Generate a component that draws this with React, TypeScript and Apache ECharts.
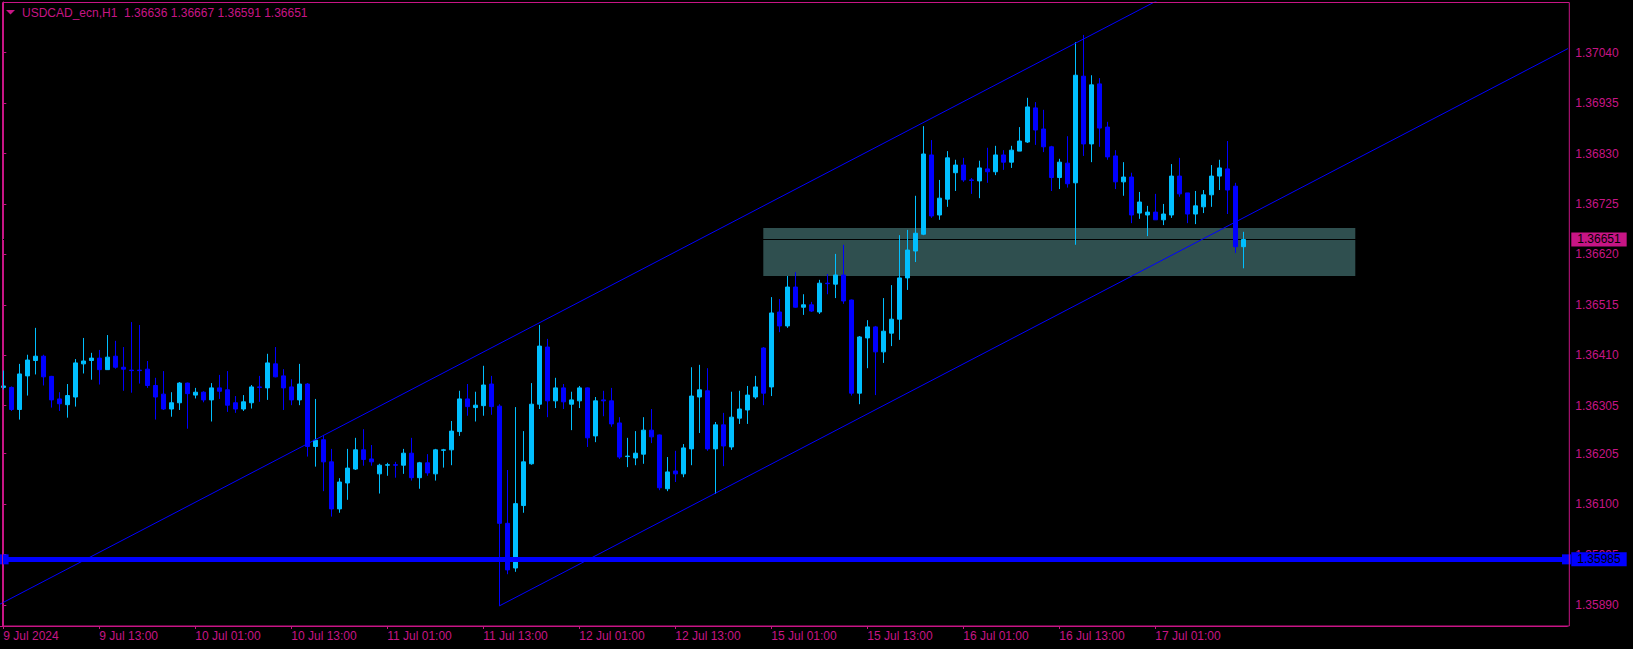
import React, { useEffect, useRef } from "react";
import * as echarts from "echarts";

const symbolTitle = "USDCAD_ecn,H1";
const lastBarOHLC = [1.36636, 1.36667, 1.36591, 1.36651];

const opens = [
  1.36343, 1.36343, 1.36297, 1.36367, 1.36399, 1.36408, 1.36366, 1.36319, 1.36307, 1.36323,
  1.36392, 1.36399, 1.36404, 1.3638, 1.36408, 1.36385, 1.36379, 1.36379, 1.36381, 1.36347,
  1.36329, 1.36298, 1.36311, 1.36352, 1.36327, 1.36333, 1.36317, 1.36342, 1.36338, 1.36311,
  1.36298, 1.36311, 1.36344, 1.36342, 1.36392, 1.36367, 1.36344, 1.36317, 1.3635, 1.3622,
  1.36234, 1.36188, 1.3609, 1.36144, 1.36173, 1.36213, 1.36194, 1.36163, 1.36181, 1.36182,
  1.36181, 1.36206, 1.36155, 1.36186, 1.36163, 1.36212, 1.36213, 1.36251, 1.36319, 1.36301,
  1.36305, 1.3635, 1.36304, 1.3606, 1.35967, 1.36097, 1.36184, 1.36308, 1.36427, 1.36315,
  1.36342, 1.36308, 1.36315, 1.36342, 1.36242, 1.36317, 1.36315, 1.36269, 1.36199, 1.36196,
  1.36204, 1.36254, 1.36244, 1.36132, 1.36169, 1.36163, 1.36215, 1.36323, 1.36336, 1.36215,
  1.36265, 1.36219, 1.36279, 1.36296, 1.36323, 1.36425, 1.36344, 1.365, 1.36471, 1.36552,
  1.3651, 1.36515, 1.365, 1.3656, 1.36558, 1.36577, 1.36525, 1.36331, 1.36446, 1.36469,
  1.36417, 1.36456, 1.36485, 1.36571, 1.36627, 1.36662, 1.36827, 1.36702, 1.36735, 1.3679,
  1.36806, 1.36775, 1.36773, 1.36798, 1.36792, 1.36827, 1.36812, 1.36835, 1.36854, 1.36925,
  1.36881, 1.36844, 1.3678, 1.3681, 1.36769, 1.36991, 1.3685, 1.36975, 1.36885, 1.36825,
  1.36771, 1.36781, 1.36706, 1.36702, 1.36708, 1.36692, 1.36702, 1.36783, 1.36748, 1.36704,
  1.36719, 1.36744, 1.36783, 1.36798, 1.36762, 1.36636,
];
const highs = [
  1.36378, 1.36345, 1.36392, 1.36411, 1.36467, 1.36411, 1.36367, 1.36333, 1.3635, 1.36402,
  1.36446, 1.36415, 1.36421, 1.36452, 1.3644, 1.36427, 1.36479, 1.36473, 1.36398, 1.36363,
  1.36377, 1.36333, 1.36354, 1.36353, 1.36342, 1.36335, 1.36352, 1.36369, 1.36377, 1.36325,
  1.36327, 1.36348, 1.36367, 1.36413, 1.36427, 1.36381, 1.3636, 1.36392, 1.36352, 1.36319,
  1.36244, 1.36215, 1.36154, 1.36215, 1.36238, 1.36256, 1.36223, 1.36184, 1.36186, 1.36188,
  1.36215, 1.36238, 1.36188, 1.36204, 1.36215, 1.36215, 1.36273, 1.36336, 1.3635, 1.36334,
  1.36388, 1.36367, 1.36308, 1.36171, 1.36302, 1.36252, 1.36352, 1.36473, 1.36444, 1.36363,
  1.3635, 1.36334, 1.36346, 1.36343, 1.36323, 1.36336, 1.36342, 1.36281, 1.36238, 1.36252,
  1.36281, 1.36298, 1.36245, 1.36198, 1.36211, 1.36225, 1.36385, 1.3639, 1.36383, 1.36271,
  1.3629, 1.36334, 1.36336, 1.36346, 1.36367, 1.36427, 1.36531, 1.36527, 1.36575, 1.36583,
  1.36537, 1.36521, 1.36567, 1.36579, 1.36621, 1.3664, 1.36526, 1.3645, 1.36483, 1.36471,
  1.36529, 1.36556, 1.3666, 1.36671, 1.36742, 1.36887, 1.36858, 1.36775, 1.36835, 1.36817,
  1.36821, 1.36779, 1.36815, 1.36842, 1.36846, 1.36837, 1.36846, 1.36885, 1.36946, 1.36937,
  1.36921, 1.36846, 1.36819, 1.36866, 1.37062, 1.37077, 1.36993, 1.36987, 1.36896, 1.36837,
  1.36812, 1.3679, 1.3675, 1.36721, 1.36746, 1.36725, 1.36808, 1.36821, 1.36748, 1.36752,
  1.36754, 1.36806, 1.36817, 1.36856, 1.36769, 1.36667,
];
const lows = [
  1.36339, 1.36294, 1.36276, 1.36326, 1.3637, 1.36347, 1.36301, 1.36294, 1.3628, 1.36303,
  1.36372, 1.36359, 1.36349, 1.3638, 1.36382, 1.36336, 1.36332, 1.36351, 1.36342, 1.36276,
  1.36296, 1.36282, 1.36296, 1.36257, 1.3632, 1.36312, 1.36272, 1.36319, 1.36292, 1.3629,
  1.36294, 1.36299, 1.36313, 1.36317, 1.36364, 1.36296, 1.36306, 1.36306, 1.36199, 1.36178,
  1.36127, 1.36074, 1.36082, 1.36109, 1.36171, 1.3618, 1.3618, 1.36122, 1.36159, 1.36155,
  1.36163, 1.36149, 1.36132, 1.36159, 1.36149, 1.36176, 1.36181, 1.36242, 1.36284, 1.36272,
  1.36284, 1.36286, 1.35888, 1.35954, 1.35959, 1.36082, 1.36182, 1.36298, 1.36281, 1.363,
  1.36298, 1.36254, 1.363, 1.36219, 1.36229, 1.36283, 1.36261, 1.36194, 1.36177, 1.36181,
  1.36184, 1.36227, 1.36129, 1.36127, 1.36146, 1.36156, 1.36181, 1.36248, 1.36211, 1.36121,
  1.36179, 1.36213, 1.36267, 1.36267, 1.36319, 1.36306, 1.36325, 1.36458, 1.36467, 1.36509,
  1.36494, 1.365, 1.36496, 1.36537, 1.36529, 1.36517, 1.36326, 1.36308, 1.36383, 1.36327,
  1.36394, 1.36429, 1.36442, 1.36546, 1.36604, 1.3666, 1.36696, 1.36692, 1.36719, 1.36752,
  1.36771, 1.36746, 1.36737, 1.36769, 1.36785, 1.36796, 1.368, 1.36835, 1.36852, 1.36848,
  1.36833, 1.36752, 1.36756, 1.36759, 1.3664, 1.36825, 1.36812, 1.36844, 1.36817, 1.36756,
  1.36742, 1.36685, 1.36694, 1.36658, 1.36692, 1.36681, 1.36696, 1.3674, 1.36685, 1.36683,
  1.36706, 1.36719, 1.36754, 1.36704, 1.36623, 1.36591,
];
const closes = [
  1.36346, 1.36297, 1.36371, 1.364, 1.36408, 1.36365, 1.36317, 1.36309, 1.36326, 1.36394,
  1.36398, 1.36404, 1.3638, 1.36406, 1.36385, 1.36381, 1.36378, 1.36378, 1.36347, 1.36323,
  1.36298, 1.36311, 1.36352, 1.3633, 1.36333, 1.36317, 1.36342, 1.36335, 1.36306, 1.36298,
  1.36313, 1.36344, 1.36343, 1.36394, 1.36365, 1.36342, 1.36317, 1.3635, 1.3622, 1.36233,
  1.36188, 1.3609, 1.36146, 1.36175, 1.36213, 1.36193, 1.36188, 1.36181, 1.36182, 1.36181,
  1.36206, 1.36155, 1.36186, 1.36165, 1.36213, 1.36213, 1.36252, 1.36319, 1.36303, 1.36306,
  1.36348, 1.36303, 1.3606, 1.35963, 1.36101, 1.36188, 1.36308, 1.36429, 1.36315, 1.36342,
  1.36313, 1.36317, 1.36342, 1.36238, 1.36315, 1.36315, 1.36267, 1.36198, 1.362, 1.36206,
  1.36254, 1.3624, 1.36134, 1.36167, 1.36163, 1.36217, 1.36325, 1.36338, 1.36215, 1.36265,
  1.36221, 1.36281, 1.36298, 1.36327, 1.36344, 1.36331, 1.36498, 1.36471, 1.36552, 1.3651,
  1.36515, 1.36502, 1.3656, 1.36559, 1.36577, 1.36523, 1.36331, 1.36448, 1.36469, 1.36417,
  1.3646, 1.36485, 1.36571, 1.36629, 1.36664, 1.36829, 1.367, 1.36737, 1.36821, 1.36806,
  1.36775, 1.36774, 1.368, 1.36792, 1.36827, 1.36812, 1.36837, 1.36856, 1.36927, 1.36879,
  1.36844, 1.3678, 1.36812, 1.36767, 1.36993, 1.3685, 1.36973, 1.36883, 1.36823, 1.36771,
  1.36781, 1.36702, 1.36729, 1.36708, 1.36692, 1.36704, 1.36783, 1.36746, 1.36704, 1.36721,
  1.36744, 1.36783, 1.368, 1.36754, 1.36636, 1.36651,
];

const emptySlots = 40;
const timeLabels = [
  "9 Jul 2024", "9 Jul 13:00", "10 Jul 01:00", "10 Jul 13:00", "11 Jul 01:00",
  "11 Jul 13:00", "12 Jul 01:00", "12 Jul 13:00", "15 Jul 01:00", "15 Jul 13:00",
  "16 Jul 01:00", "16 Jul 13:00", "17 Jul 01:00",
];
const timeLabelBars = [0, 12, 24, 36, 48, 60, 72, 84, 96, 108, 120, 132, 144];

const priceTicks = [
  1.3704, 1.36935, 1.3683, 1.36725, 1.3662, 1.36515, 1.3641, 1.36305, 1.36205, 1.361,
  1.35995, 1.3589,
];
const priceRange = [1.358462, 1.371455];

const supportLevel = 1.35985;
const bidPrice = lastBarOHLC[3];
const zoneBars = [95, 169];
const zonePrices = [1.36575, 1.36675];
const channelAnchor = [62, 1.35888];
const channelRayEnd = [195.75, 1.3705];
const channelWidth = 0.00546;
const upperChannelBars = [-0.5, 170];

const MAG = "#C71585";
const BULL = "#00BFFF";
const BEAR = "#0000FF";
const FONT = "'Liberation Sans', Arial, sans-serif";

export default function App() {
  const ref = useRef<HTMLDivElement>(null);
  useEffect(() => {
    if (!ref.current) return;
    const chart = echarts.init(ref.current, undefined, { renderer: "svg" });
    const total = opens.length + emptySlots;
    const categories = Array.from({ length: total }, (_, i) => String(i));
    const candles = opens.map((o, i) => [o, closes[i], lows[i], highs[i]]);
    const slope = (channelRayEnd[1] - channelAnchor[1]) / (channelRayEnd[0] - channelAnchor[0]);
    const upperAt = (b: number) => channelAnchor[1] + (b - channelAnchor[0]) * slope + channelWidth;
    const labelSet = new Set(timeLabelBars);
    const showTick = (idx: number) => labelSet.has(idx);

    const option: any = {
      animation: false,
      backgroundColor: "#000000",
      grid: {
        left: -0.7,
        top: 2,
        width: total * 8,
        height: 624,
        containLabel: false,
        outerBoundsMode: "none",
      },
      xAxis: [
        {
          type: "category",
          data: categories,
          boundaryGap: true,
          axisLine: { show: true, lineStyle: { color: MAG, width: 1 } },
          axisTick: {
            show: true,
            alignWithLabel: true,
            interval: showTick,
            length: 3,
            lineStyle: { color: MAG },
          },
          axisLabel: {
            interval: showTick,
            formatter: (_v: string, i: number) => timeLabels[timeLabelBars.indexOf(i)] ?? "",
            align: "left",
            color: MAG,
            fontFamily: FONT,
            fontSize: 12,
            margin: 4,
          },
          splitLine: { show: false },
        },
        {
          type: "value",
          min: -0.5,
          max: total - 0.5,
          show: false,
          gridIndex: 0,
        },
      ],
      yAxis: {
        type: "value",
        position: "right",
        offset: 2,
        min: priceRange[0],
        max: priceRange[1],
        axisLine: { show: true, lineStyle: { color: MAG, width: 1 } },
        axisTick: {
          show: true,
          length: 3,
          lineStyle: { color: MAG },
          customValues: priceTicks,
        },
        axisLabel: {
          customValues: priceTicks,
          formatter: (v: number) => v.toFixed(5),
          color: MAG,
          fontFamily: FONT,
          fontSize: 12,
          margin: 6,
        },
        splitLine: { show: false },
      },
      series: [
        {
          type: "line",
          xAxisIndex: 1,
          data: [],
          silent: true,
          z: 1,
          markArea: {
            silent: true,
            z: 1,
            itemStyle: { color: "#2F4F4F", opacity: 1 },
            data: [
              [
                { coord: [zoneBars[0], zonePrices[1]] },
                { coord: [zoneBars[1], zonePrices[0]] },
              ],
            ],
          },
        },
        {
          type: "line",
          xAxisIndex: 1,
          data: [],
          silent: true,
          clip: false,
          markLine: {
            silent: true,
            z: 1.5,
            precision: 5,
            symbol: "none",
            lineStyle: { color: "#000000", width: 1, type: "solid" },
            label: {
              show: true,
              position: "end",
              distance: 4,
              formatter: () => bidPrice.toFixed(5),
              backgroundColor: MAG,
              color: "#000000",
              fontFamily: FONT,
              fontSize: 12,
              lineHeight: 12,
              padding: [1, 6, 1, 6],
            },
            data: [{ yAxis: bidPrice }],
          },
        },
        {
          type: "candlestick",
          data: candles,
          barWidth: 4,
          z: 2,
          silent: true,
          itemStyle: {
            color: BULL,
            color0: BEAR,
            borderColor: BULL,
            borderColor0: BEAR,
            borderWidth: 1,
          },
        },
        {
          type: "line",
          xAxisIndex: 1,
          data: [channelAnchor, channelRayEnd],
          symbol: "none",
          silent: true,
          z: 3,
          lineStyle: { color: BEAR, width: 1 },
        },
        {
          type: "line",
          xAxisIndex: 1,
          data: upperChannelBars.map((b) => [b, upperAt(b)]),
          symbol: "none",
          silent: true,
          z: 3,
          lineStyle: { color: BEAR, width: 1 },
        },
        {
          type: "line",
          xAxisIndex: 1,
          data: [],
          silent: true,
          clip: false,
          markLine: {
            silent: true,
            z: 5,
            precision: 5,
            symbol: "none",
            lineStyle: { color: BEAR, width: 5, type: "solid" },
            label: {
              show: true,
              position: "end",
              distance: 4,
              formatter: () => supportLevel.toFixed(5),
              backgroundColor: BEAR,
              color: "#000000",
              fontFamily: FONT,
              fontSize: 12,
              lineHeight: 12,
              padding: [1, 6, 1, 6],
            },
            data: [{ yAxis: supportLevel }],
          },
          markPoint: {
            silent: true,
            z: 5,
            symbol: "rect",
            symbolSize: [9, 10],
            itemStyle: { color: BEAR },
            label: { show: false },
            data: [
              { coord: [0.1, supportLevel] },
              { coord: [total - 0.6, supportLevel] },
            ],
          },
        },
      ],
      graphic: [
        {
          type: "rect",
          silent: true,
          z: 10,
          shape: { x: 2.5, y: 2.5, width: 1566.8, height: 623.5 },
          style: { fill: "none", stroke: MAG, lineWidth: 1 },
        },
        {
          type: "polygon",
          silent: true,
          z: 10,
          shape: { points: [[6, 10], [15, 10], [10.5, 14.5]] },
          style: { fill: MAG },
        },
        {
          type: "text",
          silent: true,
          z: 10,
          x: 22,
          y: 12.8,
          style: {
            text: `${symbolTitle}  ${lastBarOHLC.map((v) => v.toFixed(5)).join(" ")}`,
            fill: MAG,
            font: `12px ${FONT}`,
            verticalAlign: "middle",
            align: "left",
          },
        },
      ],
    };
    chart.setOption(option);
    return () => chart.dispose();
  }, []);
  return (
    <div
      ref={ref}
      style={{ position: "fixed", left: 0, top: 0, width: 1633, height: 649, background: "#000" }}
    />
  );
}
